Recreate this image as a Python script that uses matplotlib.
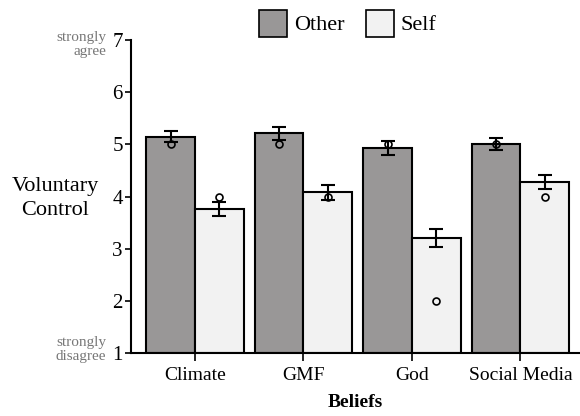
import numpy as np
import matplotlib
matplotlib.use("Agg")
import matplotlib.pyplot as plt
from matplotlib.patches import Patch

plt.rcParams['font.family'] = ['Liberation Serif', 'DejaVu Serif']

beliefs = ["Climate", "GMF", "God", "Social Media"]
other_mean = [5.15, 5.21, 4.93, 5.01]
other_err = [0.11, 0.12, 0.14, 0.12]
self_mean = [3.76, 4.08, 3.20, 4.28]
self_err = [0.13, 0.14, 0.17, 0.14]
other_median = [5, 5, 5, 5]
self_median = [4, 4, 2, 4]

fig = plt.figure(figsize=(5.8, 4.16), dpi=100)
ax = fig.add_axes([0.226, 0.151, 0.774, 0.753])

x = np.arange(len(beliefs))
w = 0.45
ax.bar(x - w / 2, np.array(other_mean) - 1, w, bottom=1, color="#999797",
       edgecolor="black", linewidth=1.5, zorder=2)
ax.bar(x + w / 2, np.array(self_mean) - 1, w, bottom=1, color="#f2f2f2",
       edgecolor="black", linewidth=1.5, zorder=2)
ax.errorbar(x - w / 2, other_mean, yerr=other_err, fmt="none", ecolor="black",
            elinewidth=1.5, capsize=5, capthick=1.5, zorder=3)
ax.errorbar(x + w / 2, self_mean, yerr=self_err, fmt="none", ecolor="black",
            elinewidth=1.5, capsize=5, capthick=1.5, zorder=3)
ax.plot(x - w / 2, other_median, "o", ms=5, mfc="none", mec="black", mew=1.2, zorder=4)
ax.plot(x + w / 2, self_median, "o", ms=5, mfc="none", mec="black", mew=1.2, zorder=4)

ax.set_ylim(1, 7)
ax.set_xlim(-0.59, 3.55)
ax.set_yticks(range(1, 8))
ax.set_xticks(x)
ax.set_xticklabels(beliefs, fontsize=14)
ax.tick_params(axis="y", labelsize=15, length=4, width=1.2, pad=2)
ax.tick_params(axis="x", length=6, width=1.2, pad=4)
for s in ["top", "right"]:
    ax.spines[s].set_visible(False)
for s in ["left", "bottom"]:
    ax.spines[s].set_linewidth(1.5)

ax.set_xlabel("Beliefs", fontsize=14, fontweight="bold", labelpad=7)
fig.text(0.095, 0.523, "Voluntary\nControl", fontsize=16, ha="center", va="center",
         linespacing=1.3)
fig.text(0.183, 0.893, "strongly\nagree", fontsize=11, color="#777777", ha="right",
         va="center", linespacing=1.15)
fig.text(0.183, 0.16, "strongly\ndisagree", fontsize=11, color="#777777", ha="right",
         va="center", linespacing=1.15)

handles = [Patch(facecolor="#999797", edgecolor="black", linewidth=1.2, label="Other"),
           Patch(facecolor="#f2f2f2", edgecolor="black", linewidth=1.2, label="Self")]
fig.legend(handles=handles, loc="upper center", bbox_to_anchor=(0.6, 1.025), ncol=2,
           frameon=False, fontsize=16, handlelength=1.25, handleheight=1.5,
           handletextpad=0.3, columnspacing=1.0)

fig.savefig("out.png", dpi=100)
